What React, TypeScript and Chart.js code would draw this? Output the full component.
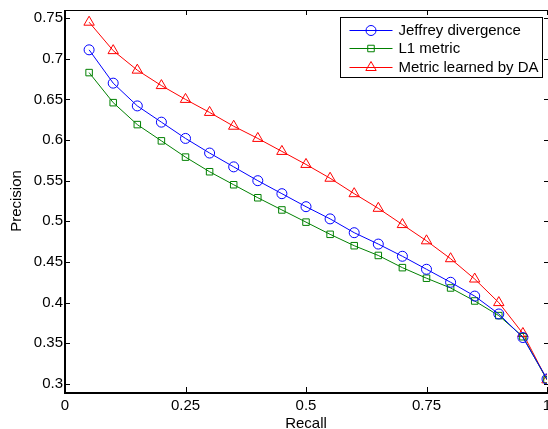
import React, { useEffect, useRef } from 'react';
import { Chart, registerables } from 'chart.js';

Chart.register(...registerables);

const RECALL = [0.05, 0.1, 0.15, 0.2, 0.25, 0.3, 0.35, 0.4, 0.45, 0.5, 0.55, 0.6, 0.65, 0.7, 0.75, 0.8, 0.85, 0.9, 0.95, 1.0];
const JEFFREY = [0.711, 0.670, 0.642, 0.622, 0.602, 0.584, 0.567, 0.550, 0.534, 0.518, 0.503, 0.486, 0.472, 0.457, 0.441, 0.425, 0.408, 0.386, 0.357, 0.306];
const L1 = [0.683, 0.646, 0.619, 0.599, 0.579, 0.561, 0.545, 0.529, 0.514, 0.499, 0.484, 0.470, 0.458, 0.443, 0.430, 0.418, 0.402, 0.384, 0.358, 0.305];
const DA = [0.745, 0.710, 0.686, 0.667, 0.650, 0.634, 0.617, 0.602, 0.586, 0.570, 0.553, 0.534, 0.516, 0.496, 0.476, 0.454, 0.429, 0.400, 0.362, 0.305];
const SERIES_LABELS = ['Jeffrey divergence', 'L1 metric', 'Metric learned by DA'];
const X_TICKS = [0, 0.25, 0.5, 0.75, 1];
const Y_TICKS = [0.3, 0.35, 0.4, 0.45, 0.5, 0.55, 0.6, 0.65, 0.7, 0.75];

const FAMILY = '"Liberation Sans", Arial, Helvetica, sans-serif';
const COLORS = ['#0000ff', '#008000', '#ff0000'];
const STYLES = ['circle', 'rect', 'triangle'];
const RADII = [5, 4.6, 6];

function fmt(v: number) {
  return String(Math.round(v * 100) / 100);
}

function drawMarker(ctx: CanvasRenderingContext2D, style: string, x: number, y: number, r: number) {
  ctx.beginPath();
  if (style === 'circle') {
    ctx.arc(x, y, r, 0, Math.PI * 2);
  } else if (style === 'rect') {
    const s = Math.SQRT1_2 * r;
    ctx.rect(x - s, y - s, 2 * s, 2 * s);
  } else {
    let rad = 0;
    ctx.moveTo(x + Math.sin(rad) * r, y - Math.cos(rad) * r);
    rad += (2 * Math.PI) / 3;
    ctx.lineTo(x + Math.sin(rad) * r, y - Math.cos(rad) * r);
    rad += (2 * Math.PI) / 3;
    ctx.lineTo(x + Math.sin(rad) * r, y - Math.cos(rad) * r);
    ctx.closePath();
  }
  ctx.stroke();
}

const framePlugin = {
  id: 'matlabFrame',
  afterDraw(chart: any) {
    const { ctx, chartArea } = chart;
    const { left, right, top, bottom } = chartArea;
    const xs = chart.scales.x;
    const ys = chart.scales.y;
    ctx.save();
    ctx.strokeStyle = '#000';
    ctx.lineWidth = 1;
    ctx.beginPath();
    ctx.moveTo(left, top + 0.5);
    ctx.lineTo(right + 2, top + 0.5);
    ctx.stroke();
    const tl = 5;
    ctx.beginPath();
    xs.ticks.forEach((t: any) => {
      const px = Math.round(xs.getPixelForValue(t.value)) + 0.5;
      ctx.moveTo(px, bottom);
      ctx.lineTo(px, bottom - tl);
      ctx.moveTo(px, top);
      ctx.lineTo(px, top + tl);
    });
    ys.ticks.forEach((t: any) => {
      const py = Math.round(ys.getPixelForValue(t.value)) + 0.5;
      ctx.moveTo(left, py);
      ctx.lineTo(left + tl, py);
      ctx.moveTo(right + 2, py);
      ctx.lineTo(right - 3, py);
    });
    ctx.stroke();
    ctx.lineWidth = 2;
    ctx.beginPath();
    ctx.moveTo(left, top);
    ctx.lineTo(left, bottom + 1);
    ctx.lineTo(right + 2, bottom + 1);
    ctx.stroke();

    // legend
    const bw = 202;
    const bh = 60;
    const bx = right - 4.5 - bw;
    const by = top + 7.5;
    ctx.fillStyle = '#fff';
    ctx.fillRect(bx, by, bw, bh);
    ctx.lineWidth = 1;
    ctx.strokeStyle = '#000';
    ctx.strokeRect(bx, by, bw, bh);
    ctx.font = `15px ${FAMILY}`;
    ctx.textBaseline = 'middle';
    ctx.textAlign = 'left';
    chart.data.datasets.forEach((ds: any, i: number) => {
      const ry = Math.round(by + 12 + i * 18.5) + 0.5;
      ctx.strokeStyle = ds.borderColor;
      ctx.lineWidth = 1;
      ctx.beginPath();
      ctx.moveTo(bx + 9, ry);
      ctx.lineTo(bx + 52, ry);
      ctx.stroke();
      drawMarker(ctx, STYLES[i], bx + 30.5, ry, RADII[i]);
      ctx.fillStyle = '#000';
      ctx.fillText(ds.label, bx + 58, ry + 0.5);
    });
    ctx.restore();
  },
};

export default function App() {
  const ref = useRef<HTMLCanvasElement | null>(null);
  useEffect(() => {
    if (!ref.current) return;
    const series = [JEFFREY, L1, DA];
    const chart = new Chart(ref.current, {
      type: 'line',
      data: {
        datasets: series.map((vals, i) => ({
          label: SERIES_LABELS[i],
          data: RECALL.map((x, j) => ({ x, y: vals[j] })),
          borderColor: COLORS[i],
          borderWidth: 1,
          backgroundColor: 'rgba(0,0,0,0)',
          pointStyle: STYLES[i] as any,
          pointRadius: RADII[i],
          pointBorderWidth: 1,
          pointBorderColor: COLORS[i],
          pointBackgroundColor: 'rgba(0,0,0,0)',
          tension: 0,
          fill: false,
        })),
      },
      options: {
        animation: false,
        responsive: false,
        devicePixelRatio: 1,
        layout: { autoPadding: false, padding: { top: 10, left: 0, right: 1, bottom: 0 } },
        plugins: { legend: { display: false }, tooltip: { enabled: false } },
        scales: {
          x: {
            type: 'linear',
            min: 0,
            max: 1,
            grid: { display: false, drawTicks: false },
            border: { display: false },
            afterBuildTicks: (s: any) => {
              s.ticks = X_TICKS.map((v) => ({ value: v }));
            },
            afterFit: (s: any) => {
              s.height = 37;
              s.paddingLeft = 0;
              s.paddingRight = 0;
            },
            ticks: {
              padding: 5,
              color: '#000',
              maxRotation: 0,
              autoSkip: false,
              font: { family: FAMILY, size: 15 },
              callback: (v: any) => fmt(Number(v)),
            },
            title: {
              display: true,
              text: 'Recall',
              color: '#000',
              font: { family: FAMILY, size: 15, lineHeight: 1.2 },
              padding: { top: 0, bottom: -3.5 },
            },
          },
          y: {
            type: 'linear',
            min: 0.29,
            max: 0.76,
            grid: { display: false, drawTicks: false },
            border: { display: false },
            afterBuildTicks: (s: any) => {
              s.ticks = Y_TICKS.map((v) => ({ value: v }));
            },
            afterFit: (s: any) => {
              s.width = 65;
              s.paddingTop = 0;
              s.paddingBottom = 0;
            },
            ticks: {
              padding: 2,
              color: '#000',
              autoSkip: false,
              font: { family: FAMILY, size: 15 },
              callback: (v: any) => fmt(Number(v)),
            },
            title: {
              display: true,
              text: 'Precision',
              color: '#000',
              font: { family: FAMILY, size: 15, lineHeight: 1.2 },
              padding: { top: 8, bottom: 0 },
            },
          },
        },
      },
      plugins: [framePlugin],
    });
    return () => chart.destroy();
  }, []);
  return (
    <div style={{ position: 'absolute', left: 0, top: 0, width: 548, height: 429, background: '#fff' }}>
      <canvas ref={ref} width={548} height={429} style={{ display: 'block' }} />
    </div>
  );
}
